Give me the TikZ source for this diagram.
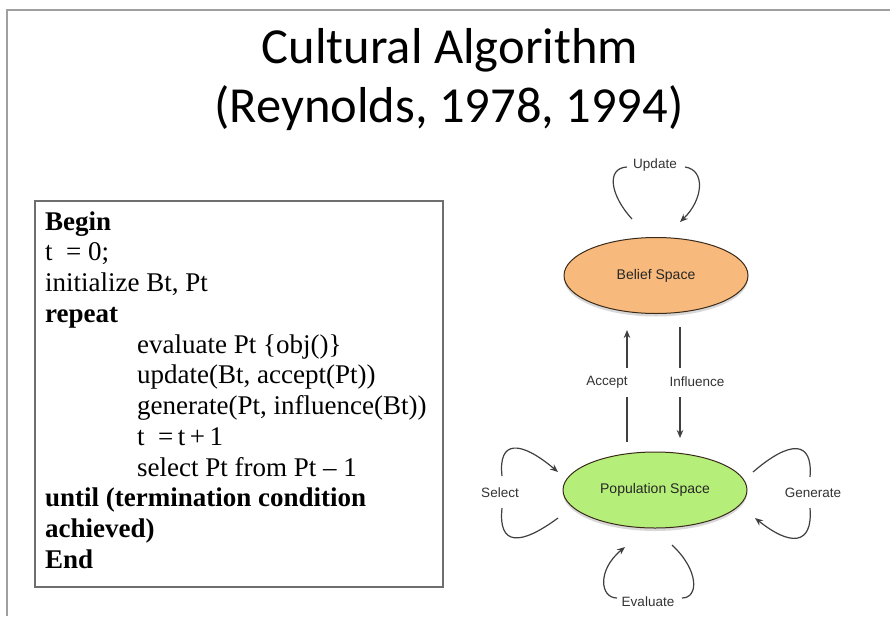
\documentclass[tikz,border=0pt]{standalone}
\usepackage{fontspec}
\usetikzlibrary{shapes.geometric,shadows,arrows.meta}
\newfontfamily\titlefont{Carlito}
\newfontfamily\codefont{Liberation Serif}
\newfontfamily\lblfont{Liberation Sans}
\definecolor{framegray}{HTML}{A0A0A0}
\definecolor{boxgray}{HTML}{6E6E6E}
\definecolor{beliefcol}{HTML}{F8BA7C}
\definecolor{popcol}{HTML}{B6EE7A}
\definecolor{arrowgray}{HTML}{404040}
\definecolor{edgecol}{HTML}{3A2A1A}
\begin{document}
\begin{tikzpicture}[x=1pt,y=-1pt,
  titletext/.style={font={\titlefont\fontsize{50.5}{60}\selectfont}, inner sep=0pt, anchor=base},
  codeline/.style={font={\codefont\fontsize{27}{31}\selectfont}, inner sep=0pt, anchor=base west},
  codebold/.style={font={\codefont\bfseries\fontsize{27}{31}\selectfont}, inner sep=0pt, anchor=base west},
  spacenode/.style={ellipse, draw=edgecol, line width=1pt, minimum width=184pt, minimum height=76pt,
    font={\lblfont\fontsize{14}{16}\selectfont}, text=black!85,
    drop shadow={shadow xshift=0pt, shadow yshift=-3pt, opacity=0.3, fill=gray}},
  lbl/.style={font={\lblfont\fontsize{13.5}{16}\selectfont}, text=black!80, inner sep=0pt},
  conn/.style={draw=arrowgray, line width=1.2pt},
  tip/.style={-{Stealth[length=8pt,width=6.5pt]}}]
\useasboundingbox (0,0) rectangle (890,616);
\fill[white] (0,0) rectangle (890,616);
% slide frame
\draw[framegray, line width=2pt] (7,616) -- (7,10) -- (890,10);
% title
\node[titletext] (t1) at (450,63) {Cultural Algorithm};
\node[titletext] (t2) at (449,122) {(Reynolds, 1978, 1994)};
% code box
\draw[boxgray, line width=1.5pt] (35,201) rectangle (443,587);
\node[codebold] (c1) at (45,230) {Begin};
\node[codeline] (c2) at (45,260.75) {t \ = 0;};
\node[codeline] (c3) at (45,291.5) {initialize Bt, Pt};
\node[codebold] (c4) at (45,322.25) {repeat};
\node[codeline] (c5) at (137,353) {evaluate Pt \{obj()\}};
\node[codeline] (c6) at (137,383.75) {update(Bt, accept(Pt))};
\node[codeline] (c7) at (137,414.5) {generate(Pt, influence(Bt))};
\node[codeline] (c8) at (137,445.25) {t \ =\,t\,+\,1};
\node[codeline] (c9) at (137,476) {select Pt from Pt – 1};
\node[codebold] (c10) at (45,506.75) {until (termination condition};
\node[codebold] (c11) at (45,537.5) {achieved)};
\node[codebold] (c12) at (45,568.25) {End};
% spaces
\node[spacenode, fill=beliefcol] (belief) at (656,275.5) {Belief Space};
\node[spacenode, fill=popcol] (pop) at (655,490) {Population Space};
% labels
\node[lbl] (upd) at (655,165) {Update};
\node[lbl] (acc) at (607,382) {Accept};
\node[lbl] (inf) at (697,382) {Influence};
\node[lbl] (sel) at (500,493) {Select};
\node[lbl] (gen) at (813,493) {Generate};
\node[lbl] (eva) at (648,602) {Evaluate};
% coordinates
\coordinate (uA) at (632,219);
\coordinate (uB) at (627,167);
\coordinate (uC) at (685,167);
\coordinate (uD) at (680,222);
\coordinate (aA) at (627,442);
\coordinate (aB) at (627,397);
\coordinate (aC) at (627,368);
\coordinate (aD) at (627,330);
\coordinate (iA) at (680,327);
\coordinate (iB) at (680,368);
\coordinate (iC) at (680,397);
\coordinate (iD) at (680,438);
\coordinate (sA) at (502,476);
\coordinate (sB) at (558,472);
\coordinate (sC) at (502,508);
\coordinate (sD) at (558,518);
\coordinate (gA) at (753,472);
\coordinate (gB) at (810,477);
\coordinate (gC) at (810,508);
\coordinate (gD) at (755,518);
\coordinate (eA) at (617,598);
\coordinate (eB) at (625,547);
\coordinate (eC) at (672,545);
\coordinate (eD) at (682,598);
% update loop
\draw[conn] (uA) .. controls (610,195) and (606,168) .. (uB);
\draw[conn, tip] (uC) .. controls (706,170) and (703,200) .. (uD);
% accept / influence
\draw[conn] (aA) -- (aB);
\draw[conn, tip] (aC) -- (aD);
\draw[conn] (iA) -- (iB);
\draw[conn, tip] (iC) -- (iD);
% select loop
\draw[conn, tip] (sA) .. controls (498,440) and (520,440) .. (sB);
\draw[conn] (sC) .. controls (498,546) and (520,546) .. (sD);
% generate loop
\draw[conn] (gA) .. controls (790,440) and (813,440) .. (gB);
\draw[conn, tip] (gC) .. controls (813,546) and (790,546) .. (gD);
% evaluate loop
\draw[conn, tip] (eA) .. controls (600,598) and (597,570) .. (eB);
\draw[conn] (eC) .. controls (699,570) and (699,598) .. (eD);
\end{tikzpicture}
\end{document}
